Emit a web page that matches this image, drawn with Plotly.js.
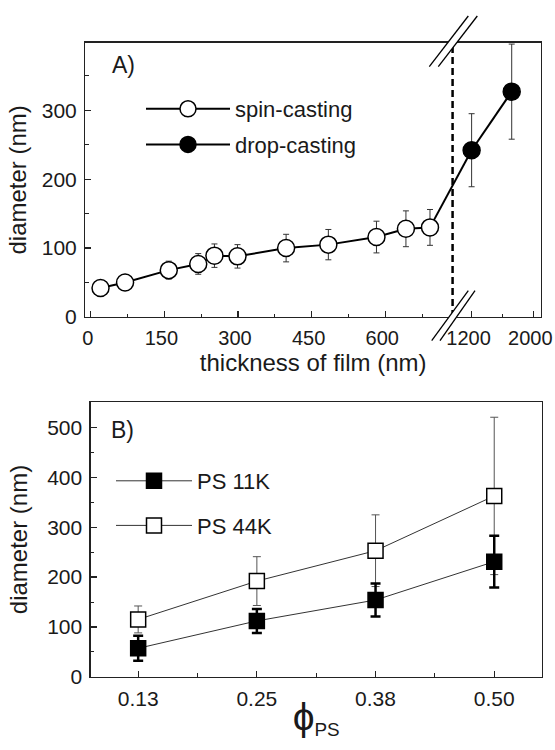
<!DOCTYPE html>
<html>
<head>
<meta charset="utf-8">
<script src="https://cdn.plot.ly/plotly-3.0.1.min.js"></script>
<style>
  html, body { margin: 0; padding: 0; background: #fff; }
  #chart { width: 555px; height: 750px; }
</style>
</head>
<body>
<div id="chart"></div>
<script>
// ---------- Panel A data ----------
const thickSpin = [20, 70, 159, 219, 252, 299, 398, 484, 582, 642, 691];
const diamSpin  = [42, 50, 68, 77, 89, 88, 100, 105, 116, 128, 130];
const errSpin   = [10, 5, 13, 15, 17, 17, 20, 22, 23, 26, 26];
const thickDrop = [1200, 1720];
const diamDrop  = [242, 327];
const errDrop   = [53, 69];
const thickTicks = [0, 150, 300, 450, 600, 1200, 2000];
const thickMinor = [75, 225, 375, 525, 675, 1600];

// ---------- Panel B data ----------
const phiLabels = ['0.13', '0.25', '0.38', '0.50'];
const diam11K = [57, 112, 154, 231];
const err11K  = [25, 24, 33, 52];
const diam44K = [115, 192, 253, 363];
const err44K  = [27, 49, 72, 158];

// ---------- broken-axis scale for panel A ----------
const BREAK_LO = 737, BREAK_HI = 953, K = 0.157;
function u(t) { return t <= BREAK_LO ? t : BREAK_LO + (t - BREAK_HI) * K; }

// ---------- layout helpers (page pixels -> paper) ----------
const W = 555, H = 750, ML = 60, MR = 10, MT = 10, MB = 50;
const PW = W - ML - MR, PH = H - MT - MB;
const fx = px => (px - ML) / PW;
const fy = py => (H - MB - py) / PH;

const FONT = 'Liberation Sans, Arial, sans-serif';
const INK = '#1a1a1a';
const phiIdx = phiLabels.map((_, i) => i);

const traces = [
  { // connector across the break
    x: [u(thickSpin[thickSpin.length - 1]), u(thickDrop[0])],
    y: [diamSpin[diamSpin.length - 1], diamDrop[0]],
    mode: 'lines', line: { color: '#000', width: 2 },
    xaxis: 'x', yaxis: 'y', showlegend: false, hoverinfo: 'skip'
  },
  {
    name: 'spin-casting', legend: 'legend', legendgroup: 'a1',
    x: thickSpin.map(u), y: diamSpin,
    error_y: { type: 'data', array: errSpin, color: '#333', thickness: 1, width: 3 },
    mode: 'lines+markers', line: { color: '#000', width: 2 },
    marker: { symbol: 'circle', size: 17, color: '#fff', line: { color: '#000', width: 1.5 } },
    xaxis: 'x', yaxis: 'y'
  },
  {
    name: 'drop-casting', legend: 'legend', legendgroup: 'a2',
    x: thickDrop.map(u), y: diamDrop,
    error_y: { type: 'data', array: errDrop, color: '#333', thickness: 1, width: 3 },
    mode: 'lines+markers', line: { color: '#000', width: 2 },
    marker: { symbol: 'circle', size: 17, color: '#000', line: { color: '#000', width: 1.5 } },
    xaxis: 'x', yaxis: 'y'
  },
  {
    name: 'PS 44K', legend: 'legend2', legendgroup: 'b2', legendrank: 2,
    x: phiIdx, y: diam44K,
    error_y: { type: 'data', array: err44K, color: '#555', thickness: 1, width: 4 },
    mode: 'lines+markers', line: { color: '#333', width: 1 },
    marker: { symbol: 'square', size: 15, color: '#fff', line: { color: '#000', width: 1.5 } },
    xaxis: 'x2', yaxis: 'y2'
  },
  {
    name: 'PS 11K', legend: 'legend2', legendgroup: 'b1', legendrank: 1,
    x: phiIdx, y: diam11K,
    error_y: { type: 'data', array: err11K, color: '#000', thickness: 2.5, width: 5 },
    mode: 'lines+markers', line: { color: '#333', width: 1 },
    marker: { symbol: 'square', size: 15, color: '#000', line: { color: '#000', width: 1.5 } },
    xaxis: 'x2', yaxis: 'y2'
  }
];

const axisCommon = {
  showline: true, linecolor: '#222', linewidth: 1.3, mirror: true,
  ticks: 'inside', ticklen: 6, tickwidth: 1.2, tickcolor: '#222',
  showgrid: false, zeroline: false, ticklabelstandoff: 3,
  ticklabeloverflow: 'allow',
  tickfont: { size: 21, color: INK, family: FONT }
};
const minorCommon = { ticks: 'inside', ticklen: 3.5, tickwidth: 1, tickcolor: '#222' };
const titleFont = { size: 24, family: FONT, color: INK };

const layout = {
  width: W, height: H,
  margin: { l: ML, r: MR, t: MT, b: MB },
  paper_bgcolor: '#fff', plot_bgcolor: '#fff',
  font: { family: FONT, color: INK, size: 20 },
  xaxis: Object.assign({}, axisCommon, {
    domain: [fx(85.3), fx(541)], anchor: 'y',
    range: [u(-11), u(2100)],
    tickmode: 'array', tickvals: thickTicks.map(u), ticktext: thickTicks.map(String),
    tickfont: { size: 20, color: INK, family: FONT }, ticklabelshift: -3,
    minor: Object.assign({}, minorCommon, { tickmode: 'array', tickvals: thickMinor.map(u) }),
    title: { text: 'thickness of film (nm)', font: titleFont, standoff: 5 }
  }),
  yaxis: Object.assign({}, axisCommon, {
    domain: [fy(317), fy(42.7)], anchor: 'x',
    range: [0, 398], tick0: 0, dtick: 100,
    minor: Object.assign({}, minorCommon, { tick0: 0, dtick: 50 }),
    title: { text: 'diameter (nm)', font: titleFont, standoff: 8 }
  }),
  xaxis2: Object.assign({}, axisCommon, {
    domain: [fx(90.7), fx(541.7)], anchor: 'y2',
    range: [-0.4, 3.4],
    tickmode: 'array', tickvals: phiIdx, ticktext: phiLabels,
    minor: Object.assign({}, minorCommon, { tickmode: 'linear', tick0: 0, dtick: 0.5 }),
    title: { text: '<span style="font-size:39px">ϕ</span><sub>PS</sub>', font: { size: 27, family: FONT, color: INK }, standoff: 2 }
  }),
  yaxis2: Object.assign({}, axisCommon, {
    domain: [fy(676.7), fy(402.3)], anchor: 'x2',
    range: [0, 551], tick0: 0, dtick: 100,
    minor: Object.assign({}, minorCommon, { tick0: 0, dtick: 50 }),
    title: { text: 'diameter (nm)', font: titleFont, standoff: 12 }
  }),
  legend: {
    x: fx(141), y: fy(88), xanchor: 'left', yanchor: 'top',
    bgcolor: 'rgba(0,0,0,0)', borderwidth: 0,
    itemwidth: 84, traceorder: 'grouped', tracegroupgap: 4,
    font: { size: 22, family: FONT, color: INK }
  },
  legend2: {
    x: fx(111), y: fy(460), xanchor: 'left', yanchor: 'top',
    bgcolor: 'rgba(0,0,0,0)', borderwidth: 0,
    itemwidth: 76, traceorder: 'grouped', tracegroupgap: 13,
    font: { size: 22, family: FONT, color: INK }
  },
  annotations: [
    { text: 'A)', xref: 'paper', yref: 'paper', x: fx(110), y: fy(65), xanchor: 'left', yanchor: 'middle',
      showarrow: false, font: { size: 23, family: FONT, color: INK } },
    { text: 'B)', xref: 'paper', yref: 'paper', x: fx(109), y: fy(430), xanchor: 'left', yanchor: 'middle',
      showarrow: false, font: { size: 23, family: FONT, color: INK } }
  ],
  shapes: [
    // dashed break line
    { type: 'line', xref: 'x', yref: 'y domain', x0: u(BREAK_LO), x1: u(BREAK_LO), y0: 0, y1: 0.985,
      line: { color: '#000', width: 2.5, dash: '7px,4px' } },
    // white gaps between break slashes (top & bottom)
    { type: 'path', xref: 'paper', yref: 'paper',
      path: `M${fx(429.3)},${fy(66.7)} L${fx(468.3)},${fy(16)} L${fx(477.3)},${fy(16)} L${fx(438.3)},${fy(66.7)} Z`,
      fillcolor: '#fff', line: { width: 0 } },
    { type: 'path', xref: 'paper', yref: 'paper',
      path: `M${fx(431.7)},${fy(340.7)} L${fx(468.3)},${fy(290.7)} L${fx(475)},${fy(290.7)} L${fx(440)},${fy(340.7)} Z`,
      fillcolor: '#fff', line: { width: 0 } },
    // break slashes
    { type: 'line', xref: 'paper', yref: 'paper', x0: fx(429.3), y0: fy(66.7), x1: fx(468.3), y1: fy(16), line: { color: '#000', width: 1.3 } },
    { type: 'line', xref: 'paper', yref: 'paper', x0: fx(438.3), y0: fy(66.7), x1: fx(477.3), y1: fy(16), line: { color: '#000', width: 1.3 } },
    { type: 'line', xref: 'paper', yref: 'paper', x0: fx(431.7), y0: fy(340.7), x1: fx(468.3), y1: fy(290.7), line: { color: '#000', width: 1.3 } },
    { type: 'line', xref: 'paper', yref: 'paper', x0: fx(440), y0: fy(340.7), x1: fx(475), y1: fy(290.7), line: { color: '#000', width: 1.3 } }
  ],
  showlegend: true
};

Plotly.newPlot('chart', traces, layout, { staticPlot: true, displayModeBar: false });
</script>
</body>
</html>
